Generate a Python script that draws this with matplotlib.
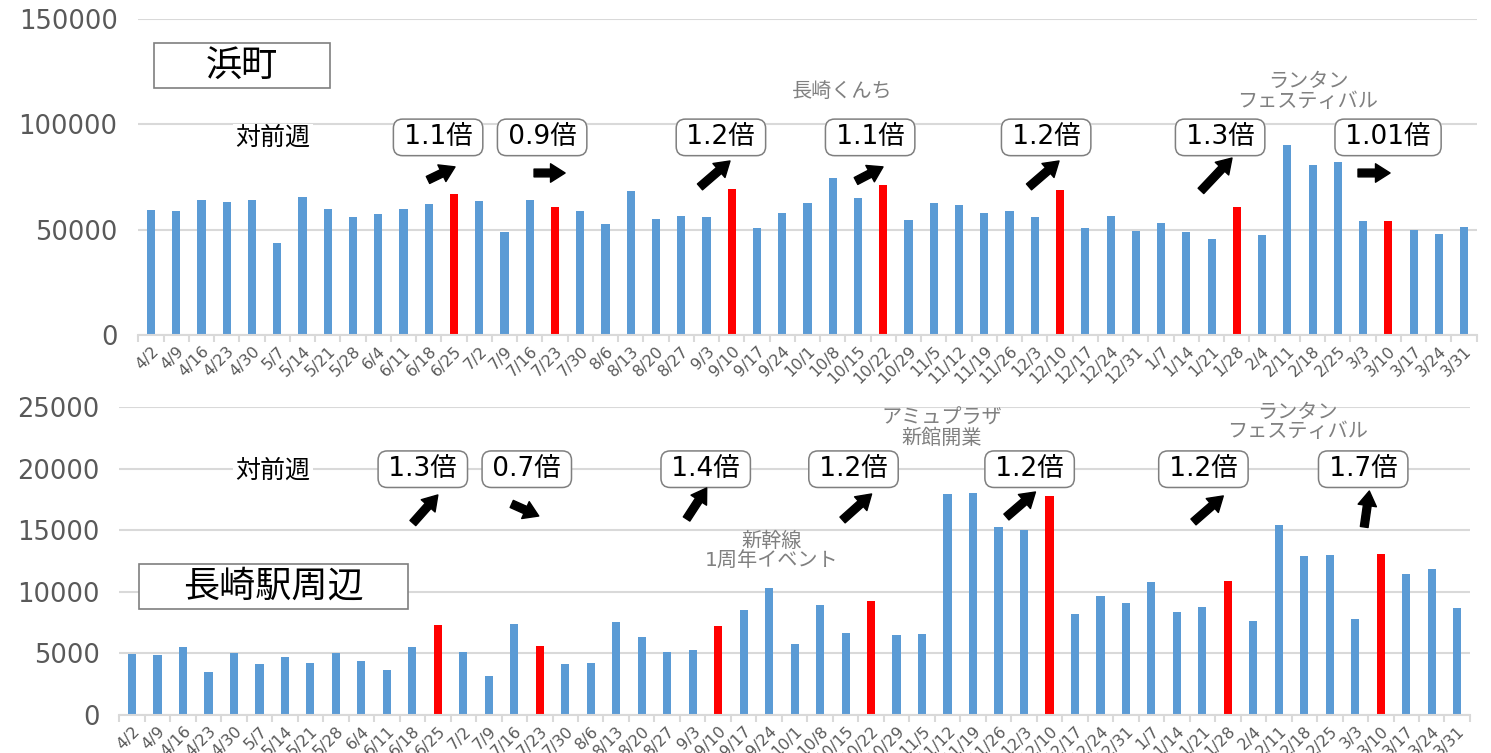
import matplotlib
matplotlib.use("Agg")
import matplotlib.pyplot as plt
from matplotlib.patches import Rectangle
from matplotlib.ticker import FixedLocator, MultipleLocator

plt.rcParams['font.family'] = ['DejaVu Sans', 'Noto Sans CJK JP']

# ---------------- data ----------------
weeks = ["4/2", "4/9", "4/16", "4/23", "4/30", "5/7", "5/14", "5/21", "5/28", "6/4",
         "6/11", "6/18", "6/25", "7/2", "7/9", "7/16", "7/23", "7/30", "8/6", "8/13",
         "8/20", "8/27", "9/3", "9/10", "9/17", "9/24", "10/1", "10/8", "10/15", "10/22",
         "10/29", "11/5", "11/12", "11/19", "11/26", "12/3", "12/10", "12/17", "12/24", "12/31",
         "1/7", "1/14", "1/21", "1/28", "2/4", "2/11", "2/18", "2/25", "3/3", "3/10",
         "3/17", "3/24", "3/31"]

hamamachi = [59500, 58900, 64300, 63000, 64000, 43600, 65700, 59800, 56000, 57400,
             60000, 62000, 67100, 63600, 49000, 64300, 60900, 58900, 52500, 68200,
             55100, 56300, 56000, 69500, 50900, 57800, 62800, 74400, 64900, 71400,
             54800, 62700, 61600, 58100, 59000, 56200, 68600, 50900, 56500, 49200,
             53000, 48700, 45500, 60900, 47500, 90300, 80800, 82000, 54000, 54300,
             49800, 48100, 51100]

station = [4950, 4850, 5500, 3500, 5000, 4100, 4700, 4250, 5050, 4400,
           3650, 5550, 7300, 5100, 3150, 7400, 5600, 4100, 4200, 7550,
           6300, 5100, 5250, 7250, 8500, 10300, 5750, 8950, 6650, 9250,
           6500, 6600, 17950, 18050, 15250, 15050, 17800, 8200, 9650, 9050,
           10800, 8350, 8750, 10900, 7600, 15400, 12900, 12950, 7800, 13050,
           11450, 11850, 8700]

highlight_weeks = ["6/25", "7/23", "9/10", "10/22", "12/10", "1/28", "3/10"]

hama_ratios = ["1.1倍", "0.9倍", "1.2倍", "1.1倍", "1.2倍", "1.3倍", "1.01倍"]
station_ratios = ["1.3倍", "0.7倍", "1.4倍", "1.2倍", "1.2倍", "1.2倍", "1.7倍"]

hama_events = ["長崎くんち", "ランタン\nフェスティバル"]
station_events = ["新幹線\n1周年イベント", "アミュプラザ\n新館開業", "ランタン\nフェスティバル"]

BLUE = "#5b9bd5"
RED = "#ff0000"
GRID = "#d9d9d9"
TICK = "#595959"
EVENT = "#808080"
THIN = "\u2009"

colors = [RED if w in highlight_weeks else BLUE for w in weeks]
x = list(range(len(weeks)))

fig = plt.figure(figsize=(14.91, 7.53), dpi=100)
ax1 = fig.add_axes([0.0928, 0.5551, 0.8976, 0.4197])
ax2 = fig.add_axes([0.0800, 0.0505, 0.9059, 0.4090])


def style_axis(ax, ymax, ystep, pad):
    ax.set_xlim(-0.5, len(weeks) - 0.5)
    ax.set_ylim(0, ymax)
    ax.yaxis.set_major_locator(MultipleLocator(ystep))
    ax.grid(axis='y', color=GRID, linewidth=1.5, zorder=0)
    ax.set_axisbelow(True)
    for s in ['top', 'right', 'left']:
        ax.spines[s].set_visible(False)
    ax.spines['bottom'].set_color(GRID)
    ax.spines['bottom'].set_linewidth(1.5)
    ax.tick_params(axis='y', length=0, labelsize=18.5, labelcolor=TICK, pad=pad)
    ax.set_xticks(x)
    ax.set_xticklabels(weeks, rotation=45, ha='right', va='top',
                       rotation_mode='anchor', fontsize=11.5, color=TICK)
    ax.tick_params(axis='x', which='major', length=0, pad=6)
    ax.xaxis.set_minor_locator(FixedLocator([i - 0.5 for i in range(len(weeks) + 1)]))
    ax.tick_params(axis='x', which='minor', length=5, color=GRID, width=1.5)


style_axis(ax1, 150000, 50000, 15)
style_axis(ax2, 25000, 5000, 14)
ax1.set_yticks([0, 50000, 100000, 150000])

ax1.bar(x, hamamachi, width=0.32, color=colors, zorder=2)
ax2.bar(x, station, width=0.32, color=colors, zorder=2)

box_style = dict(boxstyle='round,pad=0.2,rounding_size=0.35', fc='white', ec='#7f7f7f', lw=1.1)
arrow_kw = dict(arrowstyle='simple,head_length=0.75,head_width=0.95,tail_width=0.4',
                fc='black', ec='black', shrinkA=0, shrinkB=0, mutation_scale=14)

# ---------------- top panel annotations ----------------
ax1.add_patch(Rectangle((0.12, 117300), 6.97, 21300, fill=False, ec='#7f7f7f', lw=1.2, zorder=3))
ax1.text(3.6, 127900, "浜町", fontsize=26, ha='center', va='center', color='black', zorder=4)
ax1.text(4.83, 93500, "対前週", fontsize=18, ha='center', va='center', color='black',
         bbox=dict(boxstyle='square,pad=0.1', fc='white', ec='none'), zorder=4)

hama_box_pos = [(11.37, 93800), (15.49, 93800), (22.57, 93800), (28.48, 93800),
                (35.45, 93800), (42.34, 93800), (48.99, 93800)]
hama_arrows = [((10.97, 73600), (12.04, 79800)),
               ((15.17, 76900), (16.40, 76900)),
               ((21.74, 70300), (22.93, 82600)),
               ((27.92, 73100), (28.99, 79800)),
               ((34.77, 70300), (35.96, 82600)),
               ((41.58, 68400), (42.81, 84000)),
               ((47.80, 76900), (49.07, 76900))]
for lab, (bx, by), (p0, p1) in zip(hama_ratios, hama_box_pos, hama_arrows):
    ax1.text(bx, by, THIN + lab + THIN, fontsize=19, ha='center', va='center', color='black',
             bbox=box_style, zorder=4)
    ax1.annotate("", xy=p1, xytext=p0, arrowprops=arrow_kw, zorder=4)

hama_event_pos = [(27.37, 115800), (45.82, 115600)]
for lab, (ex, ey) in zip(hama_events, hama_event_pos):
    ax1.text(ex, ey, lab, fontsize=14.5, ha='center', va='center', color=EVENT,
             linespacing=1.05, zorder=4)

# ---------------- bottom panel annotations ----------------
ax2.add_patch(Rectangle((0.27, 8600), 10.55, 3660, fc='white', ec='#7f7f7f', lw=1.2, zorder=3))
ax2.text(5.53, 10400, "長崎駅周辺", fontsize=26, ha='center', va='center', color='black', zorder=4)
ax2.text(5.53, 19800, "対前週", fontsize=18, ha='center', va='center', color='black',
         bbox=dict(boxstyle='square,pad=0.1', fc='white', ec='none'), zorder=4)

st_box_pos = [(11.41, 19950), (15.49, 19950), (22.51, 19950), (28.31, 19950),
              (35.22, 19950), (42.04, 19950), (48.31, 19950)]
st_arrows = [((11.02, 15580), (12.00, 17860)),
             ((14.90, 17130), (15.96, 16150)),
             ((21.76, 15910), (22.55, 18430)),
             ((27.88, 15830), (29.02, 17940)),
             ((34.31, 16070), (35.45, 18100)),
             ((41.65, 15670), (42.82, 17780)),
             ((48.35, 15260), (48.55, 18180))]
for lab, (bx, by), (p0, p1) in zip(station_ratios, st_box_pos, st_arrows):
    ax2.text(bx, by, THIN + lab + THIN, fontsize=19, ha='center', va='center', color='black',
             bbox=box_style, zorder=4)
    ax2.annotate("", xy=p1, xytext=p0, arrowprops=arrow_kw, zorder=4)

st_event_pos = [(25.1, 13310), (31.76, 23300), (45.73, 23780)]
for lab, (ex, ey) in zip(station_events, st_event_pos):
    ax2.text(ex, ey, lab, fontsize=14.5, ha='center', va='center', color=EVENT,
             linespacing=1.05, zorder=4)

fig.savefig("out.png", dpi=100)
